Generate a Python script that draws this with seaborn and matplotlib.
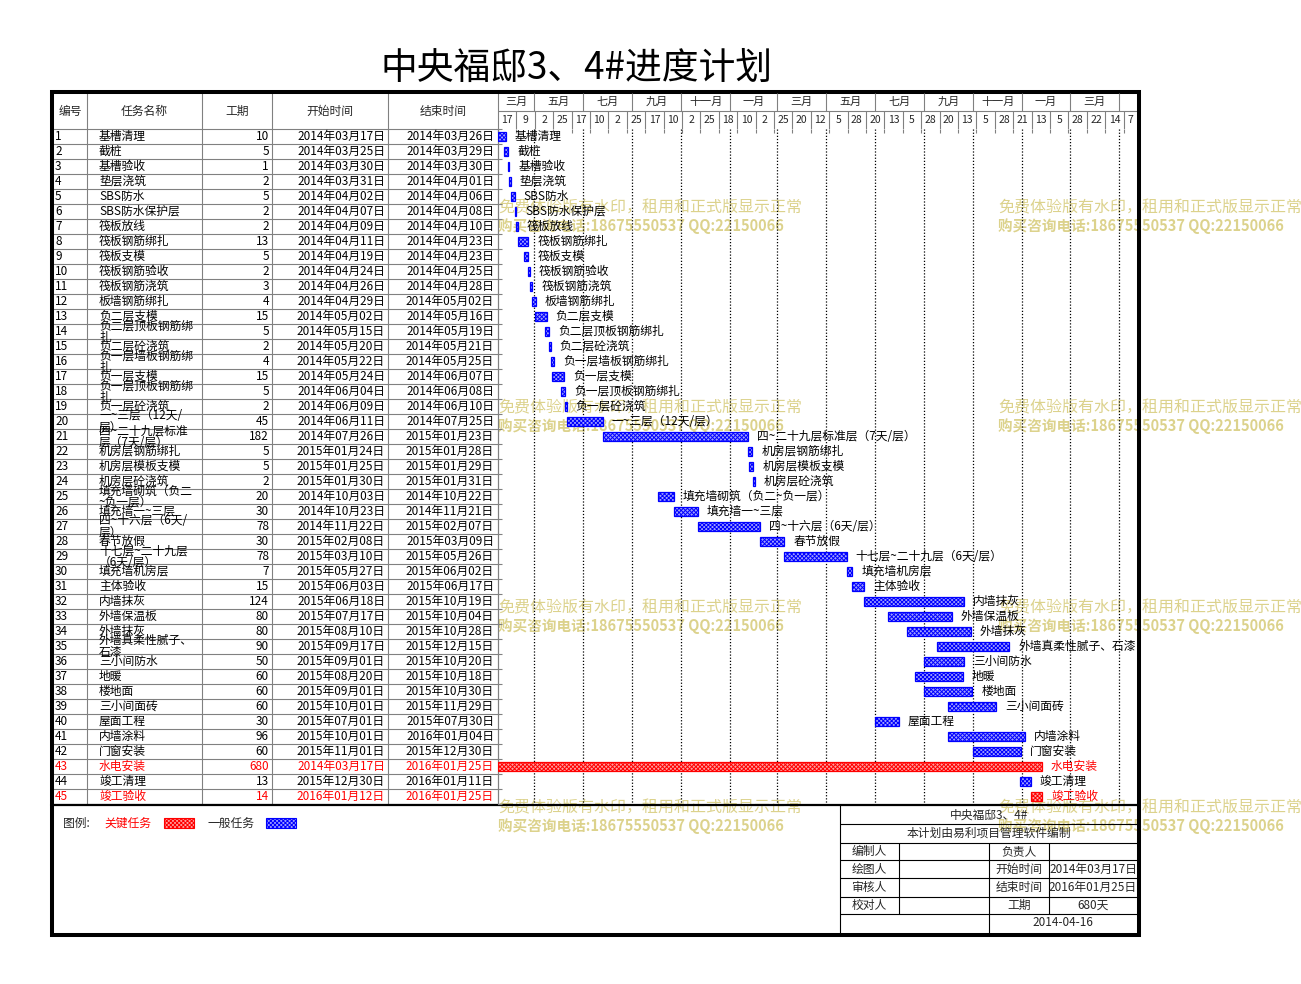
import numpy as np
import pandas as pd
import matplotlib
matplotlib.use('Agg')
import matplotlib.pyplot as plt
import matplotlib.dates as mdates
from matplotlib.patches import Rectangle
import seaborn as sns

# === Schedule data ===
title = "中央福邸3、4#进度计划"

task_ids = list(range(1, 46))
task_names = [
    "基槽清理", "截桩", "基槽验收", "垫层浇筑", "SBS防水", "SBS防水保护层",
    "筏板放线", "筏板钢筋绑扎", "筏板支模", "筏板钢筋验收", "筏板钢筋浇筑",
    "板墙钢筋绑扎", "负二层支模", "负二层顶板钢筋绑扎", "负二层砼浇筑",
    "负一层墙板钢筋绑扎", "负一层支模", "负一层顶板钢筋绑扎", "负一层砼浇筑",
    "一~三层（12天/层）", "四~二十九层标准层（7天/层）", "机房层钢筋绑扎",
    "机房层模板支模", "机房层砼浇筑", "填充墙砌筑（负二~负一层）", "填充墙一~三层",
    "四~十六层（6天/层）", "春节放假", "十七层~二十九层（6天/层）", "填充墙机房层",
    "主体验收", "内墙抹灰", "外墙保温板", "外墙抹灰", "外墙真柔性腻子、石漆",
    "三小间防水", "地暖", "楼地面", "三小间面砖", "屋面工程", "内墙涂料",
    "门窗安装", "水电安装", "竣工清理", "竣工验收",
]
durations = [10, 5, 1, 2, 5, 2, 2, 13, 5, 2, 3, 4, 15, 5, 2, 4, 15, 5, 2, 45,
             182, 5, 5, 2, 20, 30, 78, 30, 78, 7, 15, 124, 80, 80, 90, 50, 60,
             60, 60, 30, 96, 60, 680, 13, 14]
start_dates = [
    "2014-03-17", "2014-03-25", "2014-03-30", "2014-03-31", "2014-04-02",
    "2014-04-07", "2014-04-09", "2014-04-11", "2014-04-19", "2014-04-24",
    "2014-04-26", "2014-04-29", "2014-05-02", "2014-05-15", "2014-05-20",
    "2014-05-22", "2014-05-24", "2014-06-04", "2014-06-09", "2014-06-11",
    "2014-07-26", "2015-01-24", "2015-01-25", "2015-01-30", "2014-10-03",
    "2014-10-23", "2014-11-22", "2015-02-08", "2015-03-10", "2015-05-27",
    "2015-06-03", "2015-06-18", "2015-07-17", "2015-08-10", "2015-09-17",
    "2015-09-01", "2015-08-20", "2015-09-01", "2015-10-01", "2015-07-01",
    "2015-10-01", "2015-11-01", "2014-03-17", "2015-12-30", "2016-01-12",
]
end_dates = [
    "2014-03-26", "2014-03-29", "2014-03-30", "2014-04-01", "2014-04-06",
    "2014-04-08", "2014-04-10", "2014-04-23", "2014-04-23", "2014-04-25",
    "2014-04-28", "2014-05-02", "2014-05-16", "2014-05-19", "2014-05-21",
    "2014-05-25", "2014-06-07", "2014-06-08", "2014-06-10", "2014-07-25",
    "2015-01-23", "2015-01-28", "2015-01-29", "2015-01-31", "2014-10-22",
    "2014-11-21", "2015-02-07", "2015-03-09", "2015-05-26", "2015-06-02",
    "2015-06-17", "2015-10-19", "2015-10-04", "2015-10-28", "2015-12-15",
    "2015-10-20", "2015-10-18", "2015-10-30", "2015-11-29", "2015-07-30",
    "2016-01-04", "2015-12-30", "2016-01-25", "2016-01-11", "2016-01-25",
]
critical_ids = [43, 45]

# names that wrap inside the narrow table column
wrapped_names = {
    14: "负二层顶板钢筋绑\n扎", 16: "负一层墙板钢筋绑\n扎", 18: "负一层顶板钢筋绑\n扎",
    20: "一~三层（12天/\n层）", 21: "四~二十九层标准\n层（7天/层）",
    25: "填充墙砌筑（负二\n~负一层）", 27: "四~十六层（6天/\n层）",
    29: "十七层~二十九层\n（6天/层）", 35: "外墙真柔性腻子、\n石漆",
}

header_cols = ["编号", "任务名称", "工期", "开始时间", "结束时间"]
month_names = {1: "一月", 3: "三月", 5: "五月", 7: "七月", 9: "九月", 11: "十一月"}

info_title = "中央福邸3、4#"
info_note = "本计划由易利项目管理软件编制"
info_left = ["编制人", "绘图人", "审核人", "校对人"]
info_mid = ["负责人", "开始时间", "结束时间", "工期"]
info_right = ["", "2014年03月17日", "2016年01月25日", "680天"]
info_date = "2014-04-16"

wm_line1 = "免费体验版有水印，租用和正式版显示正常"
wm_line2 = "购买咨询电话:18675550537 QQ:22150066"

# === Prepare frame ===
df = pd.DataFrame({
    "id": task_ids, "name": task_names, "dur": durations,
    "start": pd.to_datetime(start_dates), "end": pd.to_datetime(end_dates),
})
df["critical"] = df["id"].isin(critical_ids)
df["left"] = mdates.date2num(df["start"])
df["width"] = mdates.date2num(df["end"]) - df["left"] + 1

def fmt_date(d):
    return f"{d.year}年{d.month:02d}月{d.day:02d}日"

# === Style ===
sns.set_theme(style="white")
plt.rcParams["font.family"] = ["Noto Sans CJK SC", "DejaVu Sans"]
plt.rcParams["hatch.linewidth"] = 0.7

W, H = 1301, 984
fig = plt.figure(figsize=(W / 100, H / 100), dpi=100)
fig.patch.set_facecolor("white")

# background axes in pixel coordinates for the table / frame
bg = fig.add_axes([0, 0, 1, 1])
bg.set_xlim(0, W)
bg.set_ylim(H, 0)
bg.axis("off")

GRID = "#808080"
FS = 8.5
RED = "#ff0000"
BLUE = "#0000ff"
LBLUE = "#a0a0ff"
LRED = "#ffa0a0"
WM = "#dcd28c"
HATCH = "xxxxxxxx"

# title
bg.text(576, 68, title, fontsize=26.5, ha="center", va="center", color="black")

# watermarks
for wx in [498, 998]:
    for wy in [208, 408, 608, 808]:
        bg.text(wx, wy, wm_line1, fontsize=11.5, color=WM, ha="left", va="center", zorder=1)
        bg.text(wx, wy + 18, wm_line2, fontsize=10.5, color=WM, ha="left", va="center",
                fontweight="bold", zorder=1)

# table grid
col_edges = [53, 87, 202, 272, 388, 498]
row_top = 129
row_h = 15
n = len(df)
for i in range(n + 1):
    bg.plot([53, 498], [row_top + i * row_h] * 2, color=GRID, lw=0.8, zorder=2)
for x in col_edges[1:]:
    bg.plot([x, x], [93, row_top + n * row_h], color=GRID, lw=0.8, zorder=2)
bg.plot([498, 1138], [111, 111], color=GRID, lw=0.8, zorder=2)

# header texts
for k, h in enumerate(header_cols):
    cx = (col_edges[k] + col_edges[k + 1]) / 2
    bg.text(cx, 111, h, fontsize=FS, ha="center", va="center")

# table rows
for i, r in df.iterrows():
    yc = row_top + (i + 0.5) * row_h
    c = RED if r["critical"] else "black"
    bg.text(55, yc, str(r["id"]), fontsize=FS, ha="left", va="center", color=c)
    bg.text(99, yc, wrapped_names.get(r["id"], r["name"]), fontsize=FS, ha="left",
            va="center", color=c, linespacing=0.85)
    bg.text(269, yc, str(r["dur"]), fontsize=FS, ha="right", va="center", color=c)
    bg.text(385, yc, fmt_date(r["start"]), fontsize=FS, ha="right", va="center", color=c)
    bg.text(494, yc, fmt_date(r["end"]), fontsize=FS, ha="right", va="center", color=c)

# separating line under the table and outer frame
bg.plot([51, 1139], [805, 805], color="black", lw=1.6, zorder=3)
bg.add_patch(Rectangle((51.5, 91.5), 1087.5, 843.5, fill=False, ec="black", lw=2.9, zorder=5))

# legend
bg.text(63, 823, "图例:", fontsize=FS, ha="left", va="center")
bg.text(104, 823, "关键任务", fontsize=FS, ha="left", va="center", color=RED)
bg.add_patch(Rectangle((164, 818), 30, 10, fc=LRED, ec=RED, hatch=HATCH, lw=0.8))
bg.text(207, 823, "一般任务", fontsize=FS, ha="left", va="center")
bg.add_patch(Rectangle((266, 818), 30, 10, fc=LBLUE, ec=BLUE, hatch=HATCH, lw=0.8))

# info box
ln = dict(color="black", lw=0.8, zorder=3)
bg.plot([840, 840], [805, 934], **ln)
for y in [824, 843, 860, 878, 897, 914]:
    bg.plot([840, 1138], [y, y], **ln)
for x in [899, 1049]:
    bg.plot([x, x], [843, 914], **ln)
bg.plot([989, 989], [843, 934], **ln)
bg.text(989, 815, info_title, fontsize=FS, ha="center", va="center")
bg.text(989, 833.5, info_note, fontsize=FS, ha="center", va="center")
info_rows = [851.5, 869, 887.5, 905.5]
for k, y in enumerate(info_rows):
    bg.text(869, y, info_left[k], fontsize=FS, ha="center", va="center")
    bg.text(1019, y, info_mid[k], fontsize=FS, ha="center", va="center")
    bg.text(1093, y, info_right[k], fontsize=FS, ha="center", va="center")
bg.text(1063, 923, info_date, fontsize=FS, ha="center", va="center")

# === Gantt axes ===
d0 = pd.Timestamp(start_dates[0])
x0 = mdates.date2num(d0)
x1 = x0 + 800
ax = fig.add_axes([498 / W, 1 - 804 / H, 640 / W, 675 / H], zorder=4)
ax.patch.set_alpha(0)
ax.set_xlim(x0, x1)
ax.set_ylim(n + 0.5, 0.5)

faces = [LRED if c else LBLUE for c in df["critical"]]
edges = [RED if c else BLUE for c in df["critical"]]
ax.barh(df["id"], df["width"], left=df["left"], height=0.66, color=faces,
        edgecolor=edges, hatch=HATCH, linewidth=0.9, zorder=3)
for _, r in df.iterrows():
    ax.annotate(r["name"], xy=(r["left"] + r["width"], r["id"]), xytext=(6.5, 0),
                textcoords="offset points", va="center", ha="left", fontsize=8.5,
                color=RED if r["critical"] else "black", zorder=4)

# two-month dotted guides
month_bounds = pd.date_range("2014-05-01", "2016-05-01", freq="2MS")
mb = mdates.date2num(month_bounds)
ax.vlines(mb, 0.5, n + 0.5, colors="black", linestyles=(0, (1, 1.5)), lw=0.9, zorder=1)

# day ticks every 23 days
day_ticks = pd.date_range(d0, periods=35, freq="23D")
dt = mdates.date2num(day_ticks)
ax.set_xticks(dt)
ax.set_yticks(np.arange(0.5, n + 1, 1))
ax.tick_params(axis="x", top=True, bottom=False, labeltop=False, labelbottom=False,
               direction="in", length=3, color=GRID, width=0.8)
ax.tick_params(axis="y", left=True, labelleft=False, direction="in", length=3,
               color=GRID, width=0.8)
for s in ["top", "right", "bottom"]:
    ax.spines[s].set_visible(False)
ax.spines["left"].set_color(GRID)
ax.spines["left"].set_linewidth(0.8)
ax.grid(False)

# === Timescale header ===
hx = fig.add_axes([498 / W, 1 - 129 / H, 640 / W, 36 / H], zorder=4)
hx.patch.set_alpha(0)
hx.set_xlim(x0, x1)
hx.set_ylim(2, 0)
hx.axis("off")
hx.vlines(mb, 0, 1, colors=GRID, lw=0.8)
hx.vlines(dt[1:], 1, 2, colors=GRID, lw=0.8)
m_edges = np.concatenate([[x0], mb])
m_labels = [d0] + list(month_bounds[:-1])
for a, b, d in zip(m_edges[:-1], m_edges[1:], m_labels):
    hx.text((a + b) / 2, 0.5, month_names[d.month], fontsize=8, ha="center", va="center")
for k, d in enumerate(day_ticks):
    right = min(dt[k] + 23, x1)
    hx.text((dt[k] + right) / 2, 1.5, str(d.day), fontsize=7.5, ha="center", va="center")

fig.savefig("out.png", dpi=100)
